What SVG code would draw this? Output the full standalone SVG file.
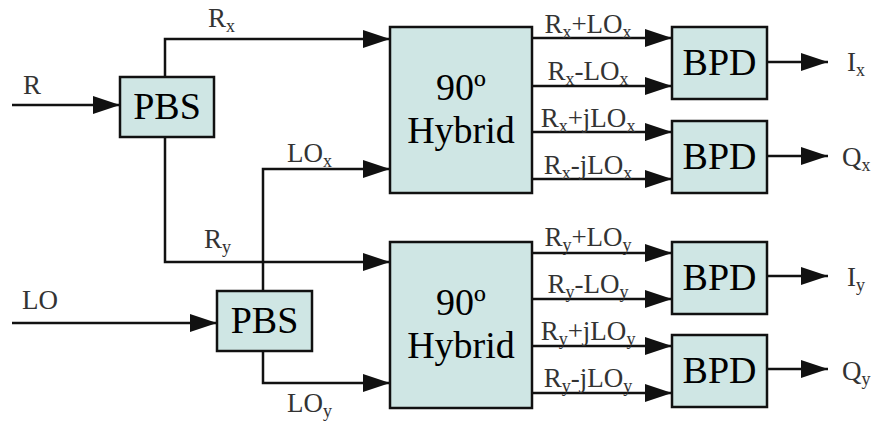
<svg xmlns="http://www.w3.org/2000/svg" width="876" height="422" viewBox="0 0 876 422">
<style>
.box{fill:#cfe6e4;stroke:#111;stroke-width:2.5}
.big{font-family:"Liberation Serif","Times New Roman",serif;font-size:38px;fill:#000;text-anchor:middle}
.lbl{font-family:"Liberation Serif","Times New Roman",serif;font-size:27px;fill:#333}
.mid{text-anchor:middle}
.sub{font-size:18px}
.wire{fill:none;stroke:#111;stroke-width:2.5}
</style>
<defs>
<marker id="ah" viewBox="0 0 27 18" refX="27" refY="9" markerWidth="27" markerHeight="18" markerUnits="userSpaceOnUse" orient="auto">
<path d="M0 0 L27 9 L0 18 Z" fill="#111"/>
</marker>
</defs>
<rect width="876" height="422" fill="#fff"/>
<g id="connectors">
<path class="wire" marker-end="url(#ah)" d="M12 105 H120"/>
<path class="wire" marker-end="url(#ah)" d="M165 77 V39 H390"/>
<path class="wire" marker-end="url(#ah)" d="M165 137 V262 H390"/>
<path class="wire" marker-end="url(#ah)" d="M12 323 H217"/>
<path class="wire" marker-end="url(#ah)" d="M263 291 V169 H390"/>
<path class="wire" marker-end="url(#ah)" d="M263 351 V383 H390"/>
<path class="wire" marker-end="url(#ah)" d="M532 38 H672"/>
<path class="wire" marker-end="url(#ah)" d="M532 86 H672"/>
<path class="wire" marker-end="url(#ah)" d="M532 132 H672"/>
<path class="wire" marker-end="url(#ah)" d="M532 179 H672"/>
<path class="wire" marker-end="url(#ah)" d="M532 253 H672"/>
<path class="wire" marker-end="url(#ah)" d="M532 299 H672"/>
<path class="wire" marker-end="url(#ah)" d="M532 346 H672"/>
<path class="wire" marker-end="url(#ah)" d="M532 393 H672"/>
<path class="wire" marker-end="url(#ah)" d="M767 62 H828"/>
<path class="wire" marker-end="url(#ah)" d="M767 156 H828"/>
<path class="wire" marker-end="url(#ah)" d="M767 276 H828"/>
<path class="wire" marker-end="url(#ah)" d="M767 369 H828"/>
<text class="lbl" x="23" y="94">R</text>
<text class="lbl" x="22" y="309">LO</text>
<text class="lbl" x="208" y="27">R<tspan class="sub" dy="5">x</tspan></text>
<text class="lbl" x="287" y="162">LO<tspan class="sub" dy="5">x</tspan></text>
<text class="lbl" x="204" y="248">R<tspan class="sub" dy="5">y</tspan></text>
<text class="lbl" x="287" y="412">LO<tspan class="sub" dy="5">y</tspan></text>
<text class="lbl mid" x="588" y="33">R<tspan class="sub" dy="5">x</tspan><tspan dy="-5">+LO</tspan><tspan class="sub" dy="5">x</tspan></text>
<text class="lbl mid" x="588" y="80">R<tspan class="sub" dy="5">x</tspan><tspan dy="-5">-LO</tspan><tspan class="sub" dy="5">x</tspan></text>
<text class="lbl mid" x="588" y="127">R<tspan class="sub" dy="5">x</tspan><tspan dy="-5">+jLO</tspan><tspan class="sub" dy="5">x</tspan></text>
<text class="lbl mid" x="588" y="174">R<tspan class="sub" dy="5">x</tspan><tspan dy="-5">-jLO</tspan><tspan class="sub" dy="5">x</tspan></text>
<text class="lbl mid" x="588" y="246">R<tspan class="sub" dy="5">y</tspan><tspan dy="-5">+LO</tspan><tspan class="sub" dy="5">y</tspan></text>
<text class="lbl mid" x="588" y="293">R<tspan class="sub" dy="5">y</tspan><tspan dy="-5">-LO</tspan><tspan class="sub" dy="5">y</tspan></text>
<text class="lbl mid" x="588" y="340">R<tspan class="sub" dy="5">y</tspan><tspan dy="-5">+jLO</tspan><tspan class="sub" dy="5">y</tspan></text>
<text class="lbl mid" x="588" y="387">R<tspan class="sub" dy="5">y</tspan><tspan dy="-5">-jLO</tspan><tspan class="sub" dy="5">y</tspan></text>
<text class="lbl" x="847" y="71">I<tspan class="sub" dy="5">x</tspan></text>
<text class="lbl" x="842" y="166">Q<tspan class="sub" dy="5">x</tspan></text>
<text class="lbl" x="847" y="286">I<tspan class="sub" dy="5">y</tspan></text>
<text class="lbl" x="842" y="380">Q<tspan class="sub" dy="5">y</tspan></text>
</g>
<g id="pbs1"><rect class="box" x="120" y="77" width="94" height="60"/><text class="big" x="167" y="119">PBS</text></g>
<g id="pbs2"><rect class="box" x="217" y="291" width="95" height="60"/><text class="big" x="264.5" y="333">PBS</text></g>
<g id="hybrid1"><rect class="box" x="390" y="27" width="142" height="166"/><text class="big" x="461" y="100">90º</text><text class="big" x="461" y="143">Hybrid</text></g>
<g id="hybrid2"><rect class="box" x="390" y="242" width="142" height="166"/><text class="big" x="461" y="315">90º</text><text class="big" x="461" y="358">Hybrid</text></g>
<g id="bpd1"><rect class="box" x="672" y="27" width="95" height="72"/><text class="big" x="719.5" y="75">BPD</text></g>
<g id="bpd2"><rect class="box" x="672" y="121" width="95" height="72"/><text class="big" x="719.5" y="169">BPD</text></g>
<g id="bpd3"><rect class="box" x="672" y="242" width="95" height="72"/><text class="big" x="719.5" y="290">BPD</text></g>
<g id="bpd4"><rect class="box" x="672" y="335" width="95" height="72"/><text class="big" x="719.5" y="383">BPD</text></g>
</svg>
